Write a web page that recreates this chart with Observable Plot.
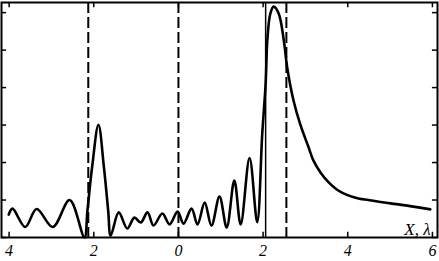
<!DOCTYPE html>
<html>
<head>
<meta charset="utf-8">
<script src="https://cdn.jsdelivr.net/npm/d3@7"></script>
<script src="https://cdn.jsdelivr.net/npm/@observablehq/plot@0.6"></script>
<style>
  html, body { margin: 0; padding: 0; background: #fff; }
  #chart svg { display: block; }
</style>
</head>
<body>
<div id="chart"></div>
<script>
// Curve samples (X, amplitude)
const xValues = [-4.01, -3.92, -3.62, -3.35, -2.97, -2.57, -2.22, -2.15, -2.04, -1.89, -1.76, -1.66, -1.60,
  -1.41, -1.21, -1.04, -0.89, -0.73, -0.59, -0.38, -0.21, -0.02, 0.12, 0.31, 0.45, 0.62, 0.78, 0.97,
  1.14, 1.32, 1.47, 1.68, 1.86, 1.98, 2.06, 2.10, 2.17, 2.25, 2.37, 2.49, 2.57, 2.72, 2.88, 3.07,
  3.19, 3.36, 3.55, 3.74, 3.95, 4.23, 4.61, 5.01, 5.41, 5.95];
const yValues = [0.61, 0.77, 0.28, 0.76, 0.28, 1.00, 0.00, 0.72, 1.87, 3.01, 1.87, 0.72, 0.05,
  0.67, 0.24, 0.53, 0.40, 0.67, 0.32, 0.64, 0.35, 0.69, 0.37, 0.77, 0.35, 0.93, 0.32, 1.09,
  0.27, 1.52, 0.35, 2.12, 0.41, 2.77, 4.11, 5.25, 5.97, 6.16, 5.97, 5.25, 4.53, 3.65, 3.01, 2.42,
  2.05, 1.73, 1.47, 1.28, 1.15, 1.05, 0.98, 0.91, 0.85, 0.75];
const xTicks = [-4, -2, 0, 2, 4, 6];
const yTicks = [0, 1, 2, 3, 4, 5, 6];
const dashedLines = [-2.13, 0, 2.55];
const solidLines = [2.06];
const axisLabel = "X, λ";

const xDomain = [-4.18, 6.12];
const yDomain = [0, 6.27];

const curve = xValues.map((x, i) => ({x, y: yValues[i]}));
const tickLenY = 0.14;   // in y units
const tickLenX = 0.12;   // in x units

const chart = Plot.plot({
  width: 439,
  height: 261,
  marginLeft: 1,
  marginRight: 2,
  marginTop: 2,
  marginBottom: 24,
  style: {fontFamily: "'Liberation Serif', serif", background: "#fff", color: "#000"},
  x: {domain: xDomain},
  y: {domain: yDomain},
  marks: [
    Plot.ruleX(dashedLines, {stroke: "#000", strokeWidth: 2, strokeDasharray: "11,4"}),
    Plot.ruleX(solidLines, {stroke: "#000", strokeWidth: 1.5}),
    Plot.line(curve, {x: "x", y: "y", curve: "catmull-rom", stroke: "#000", strokeWidth: 2.6}),
    // inward ticks
    Plot.ruleX(xTicks, {x: d => d, y1: 0, y2: tickLenY, stroke: "#000", strokeWidth: 1.5}),
    Plot.ruleX(xTicks, {x: d => d, y1: yDomain[1] - tickLenY, y2: yDomain[1], stroke: "#000", strokeWidth: 1.5}),
    Plot.ruleY(yTicks, {y: d => d, x1: xDomain[0], x2: xDomain[0] + tickLenX, stroke: "#000", strokeWidth: 1.5}),
    Plot.ruleY(yTicks, {y: d => d, x1: xDomain[1] - tickLenX, x2: xDomain[1], stroke: "#000", strokeWidth: 1.5}),
    Plot.frame({stroke: "#000", strokeWidth: 2}),
    Plot.axisX(xTicks, {tickSize: 0, tickPadding: 7, tickFormat: d => String(Math.abs(d)),
      fontSize: 16, fontStyle: "italic", fill: "#000", label: null}),
    Plot.axisY({ticks: [], label: null}),
    Plot.text([axisLabel], {x: xDomain[1], y: 0, frameAnchor: "bottom-right", text: d => d,
      dx: -7, dy: -3, textAnchor: "end", lineAnchor: "bottom", fontSize: 17, fontStyle: "italic", fill: "#000"})
  ]
});
document.getElementById("chart").appendChild(chart);
</script>
</body>
</html>
